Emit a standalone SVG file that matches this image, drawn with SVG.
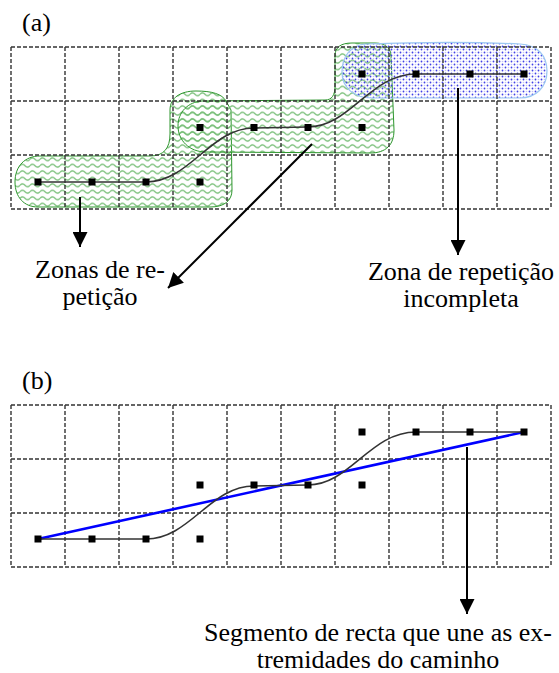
<svg xmlns="http://www.w3.org/2000/svg" width="559" height="673" viewBox="0 0 559 673">
<defs>
<pattern id="wave" width="10" height="6.5" patternUnits="userSpaceOnUse">
<path d="M0,3.2 Q2.5,0.4 5,3.2 T10,3.2" fill="none" stroke="#78bf78" stroke-width="1.3"/>
</pattern>
<pattern id="dots" width="6" height="6" patternUnits="userSpaceOnUse">
<circle cx="1.5" cy="1.5" r="0.9" fill="#4040e6"/>
<circle cx="4.5" cy="4.5" r="0.9" fill="#4040e6"/>
<circle cx="4.5" cy="1.5" r="0.8" fill="#c4c4f4"/>
<circle cx="1.5" cy="4.5" r="0.8" fill="#c4c4f4"/>
</pattern>
<marker id="ah" viewBox="0 0 15 15" refX="15" refY="7.5" markerWidth="15" markerHeight="15" markerUnits="userSpaceOnUse" orient="auto">
<path d="M0,0 L15,7.5 L0,15 Z" fill="#000"/>
</marker>
<g id="gridShape">
<path d="M11,0 H551 M11,54 H551 M11,108 H551 M11,162 H551 M11,0 V162 M65,0 V162 M119,0 V162 M173,0 V162 M227,0 V162 M281,0 V162 M335,0 V162 M389,0 V162 M443,0 V162 M497,0 V162 M551,0 V162"/>
</g>
</defs>
<style>
.grid{fill:none;stroke:#333;stroke-width:1.4;stroke-dasharray:4 2}
.green{fill:url(#wave);stroke:#2e962e;stroke-width:1}
.blue{fill:url(#dots);stroke:#9cc8f2;stroke-width:1.2}
.path{fill:none;stroke:#333;stroke-width:1.6}
.pt{fill:#000}
.conn{stroke:#000;stroke-width:2;fill:none}
.lbl{font-family:"Liberation Serif","Times New Roman",serif;font-size:26px;fill:#000}
.mid{text-anchor:middle}
</style>

<g id="panel-a">
<g id="zone1">
<path class="green" d="M40,156 L150,156 C164,156 170,148 170,134 L170,110 C170,98 180,91 196,91 C212,91 222,94 226,101 L231,110 L232,190 C232,201 224,207 210,207 L38,207 C24,207 15,197 15,182 C15,166 25,156 40,156 Z"/>
</g>
<g id="zone2">
<path class="green" d="M202,101 L325,100 C332,100 335,95 335,86 L335,56 C335,47 341,43 352,43 L375,43 C385,43 391,48 391,56 L394,130 C394,145 386,153 370,153 L206,152 C189,152 178,140 178,126 C178,112 188,102 202,101 Z"/>
</g>
<g id="zone3">
<path class="blue" d="M366,44 C420,42 480,42 520,44 C538,45 547,56 547,71 C547,87 536,98 520,98 L372,98 C353,98 342,87 342,72 C342,56 351,45 366,44 Z"/>
</g>
<use href="#gridShape" class="grid" transform="translate(0,47)"/>
<g id="path-a">
<path class="path" d="M38,182 L146,182 C190,182 210,128 254,128 L308,127 C350,127 370,74 416,74 L524,74"/>
</g>
<g id="points-a" class="pt">
<rect x="34.5" y="178.5" width="7" height="7"/>
<rect x="88.5" y="178.5" width="7" height="7"/>
<rect x="142.5" y="178.5" width="7" height="7"/>
<rect x="196.5" y="178.5" width="7" height="7"/>
<rect x="196.5" y="124" width="7" height="7"/>
<rect x="250.5" y="124" width="7" height="7"/>
<rect x="304.5" y="124" width="7" height="7"/>
<rect x="358.5" y="124" width="7" height="7"/>
<rect x="358.5" y="70.5" width="7" height="7"/>
<rect x="412.5" y="70.5" width="7" height="7"/>
<rect x="466.5" y="70.5" width="7" height="7"/>
<rect x="520.5" y="70.5" width="7" height="7"/>
</g>
<text class="lbl" x="22" y="31">(a)</text>
<g id="label-zonas">
<text class="lbl mid" x="100" y="278">Zonas de re-</text>
<text class="lbl mid" x="100" y="305">petição</text>
</g>
<g id="label-incompleta">
<text class="lbl mid" x="461" y="280">Zona de repetição</text>
<text class="lbl mid" x="461" y="307">incompleta</text>
</g>
</g>

<g id="panel-b">
<use href="#gridShape" class="grid" transform="translate(0,405)"/>
<g id="segment">
<line x1="38" y1="539" x2="524" y2="432" stroke="#0000ff" stroke-width="2.6"/>
</g>
<g id="path-b">
<path class="path" d="M38,539 L146,539 C190,539 210,486 254,486 L308,485 C350,485 370,432 416,432 L524,432"/>
</g>
<g id="points-b" class="pt">
<rect x="34.5" y="535.5" width="7" height="7"/>
<rect x="88.5" y="535.5" width="7" height="7"/>
<rect x="142.5" y="535.5" width="7" height="7"/>
<rect x="196.5" y="535.5" width="7" height="7"/>
<rect x="196.5" y="481.5" width="7" height="7"/>
<rect x="250.5" y="481.5" width="7" height="7"/>
<rect x="304.5" y="481.5" width="7" height="7"/>
<rect x="358.5" y="481.5" width="7" height="7"/>
<rect x="358.5" y="428.5" width="7" height="7"/>
<rect x="412.5" y="428.5" width="7" height="7"/>
<rect x="466.5" y="428.5" width="7" height="7"/>
<rect x="520.5" y="428.5" width="7" height="7"/>
</g>
<text class="lbl" x="22" y="389">(b)</text>
<g id="label-segmento">
<text class="lbl mid" x="378" y="641">Segmento de recta que une as ex-</text>
<text class="lbl mid" x="378" y="668">tremidades do caminho</text>
</g>
</g>

<g id="connectors">
<line class="conn" x1="80" y1="197" x2="80" y2="247" marker-end="url(#ah)"/>
<line class="conn" x1="312" y1="144" x2="168" y2="288" marker-end="url(#ah)"/>
<line class="conn" x1="458" y1="88" x2="458" y2="255" marker-end="url(#ah)"/>
<line class="conn" x1="467" y1="447" x2="467" y2="614" marker-end="url(#ah)"/>
</g>
</svg>
